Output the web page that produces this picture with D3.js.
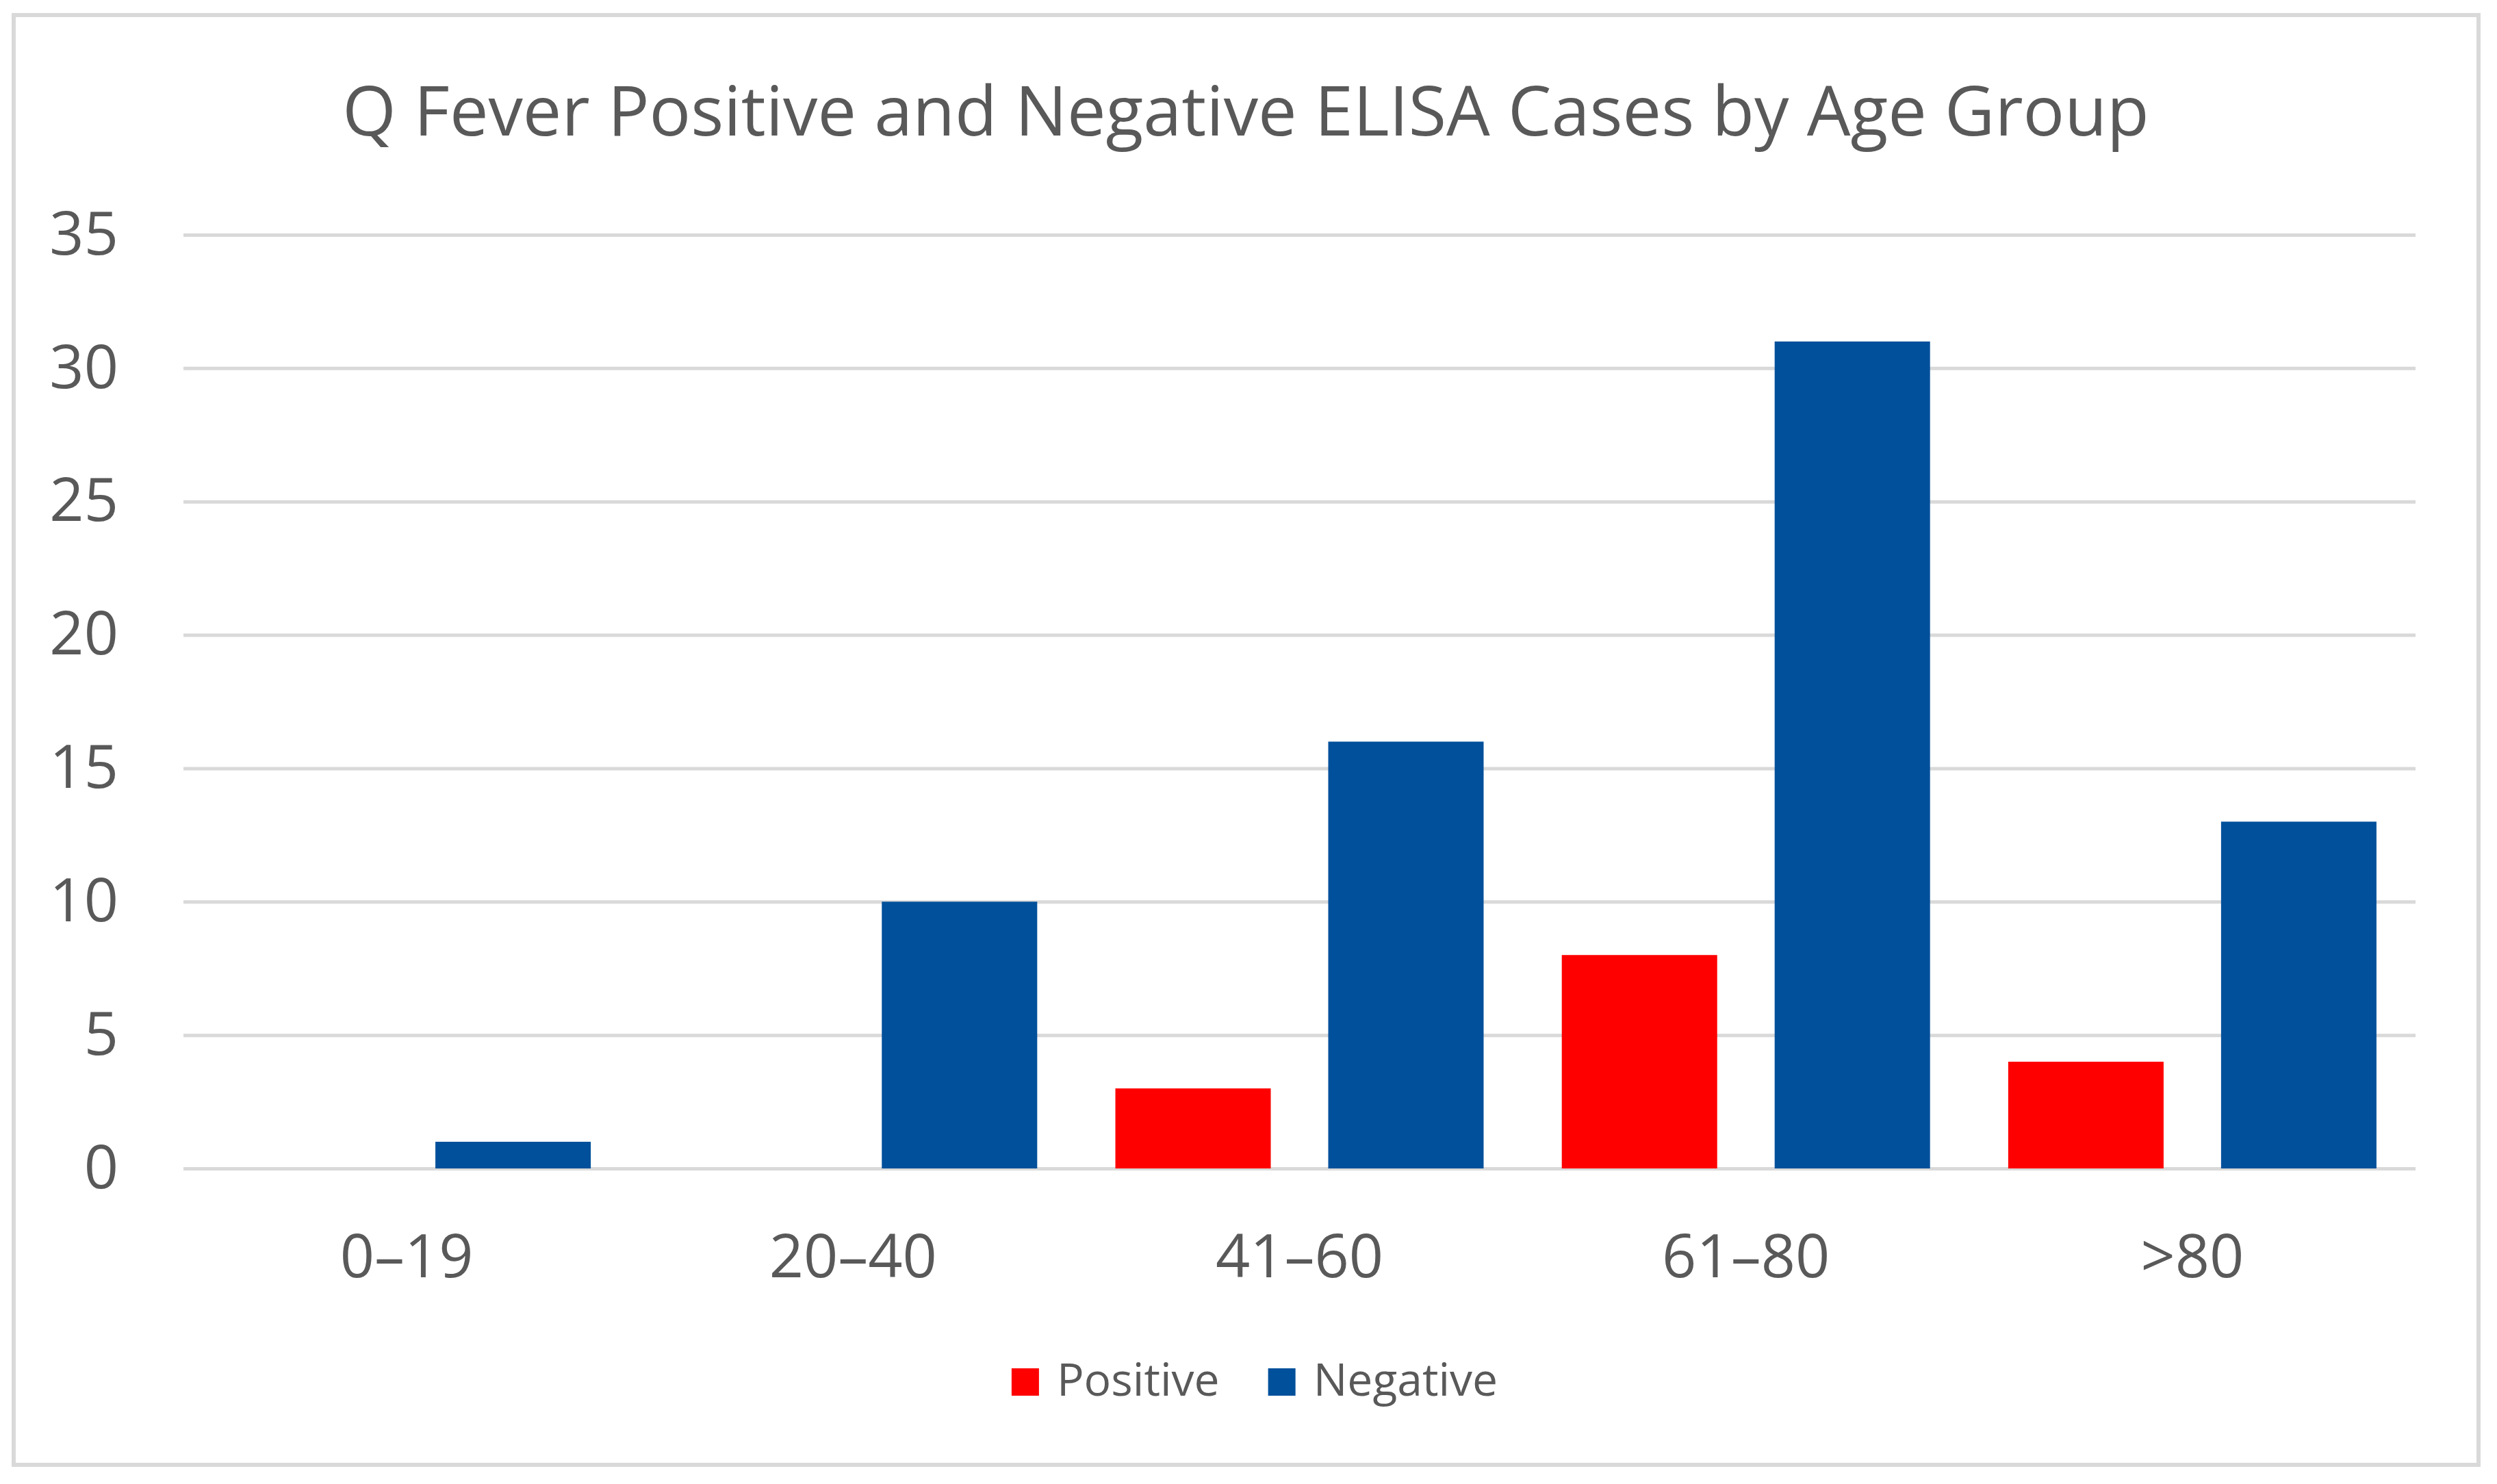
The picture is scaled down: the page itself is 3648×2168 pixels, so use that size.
<!DOCTYPE html>
<html>
<head>
<meta charset="utf-8">
<script src="https://cdn.jsdelivr.net/npm/d3@7"></script>
<style>
  body { margin: 0; background: #fff; }
  text { font-family: "Open Sans", sans-serif; fill: #595959; }
</style>
</head>
<body>
<div id="chart"></div>
<script>
// Data
const categories = ['0\u201319', '20\u201340', '41\u201360', '61\u201380', '>80'];
const seriesNames = ['Positive', 'Negative'];
const positive = [0, 0, 3, 8, 4];
const negative = [1, 10, 16, 31, 13];
const yTicks = [0, 5, 10, 15, 20, 25, 30, 35];
const chartTitle = 'Q Fever Positive and Negative ELISA Cases by Age Group';

const colors = { Positive: '#ff0000', Negative: '#00509b' };

const width = 3648;
const height = 2168;
const plot = { left: 268, right: 3529, top: 343, bottom: 1707 };

const svg = d3.select('#chart')
    .append('svg')
    .attr('width', width)
    .attr('height', height);

// Chart border
svg.append('rect')
    .attr('x', 20).attr('y', 22)
    .attr('width', 3601).attr('height', 2118)
    .attr('fill', '#fff')
    .attr('stroke', '#d9d9d9')
    .attr('stroke-width', 6);

// Title, fitted to the reference width
const title = svg.append('text')
    .attr('x', 1820).attr('y', 198)
    .attr('text-anchor', 'middle')
    .style('font-size', '100px')
    .text(chartTitle);
const tw = title.node().getComputedTextLength();
title.style('font-size', `${100 * 2640 / tw}px`);

// Scales
const x = d3.scaleBand()
    .domain(categories)
    .range([plot.left, plot.right]);

const groupPad = (x.bandwidth() - 538) / 2;
const x1 = d3.scaleBand()
    .domain(seriesNames)
    .range([groupPad, x.bandwidth() - groupPad])
    .paddingInner(0.27);

const y = d3.scaleLinear()
    .domain([0, 35])
    .range([plot.bottom, plot.top]);

// Y axis with gridlines
const yAxis = svg.append('g')
    .attr('transform', `translate(${plot.left},0)`)
    .call(d3.axisLeft(y)
        .tickValues(yTicks)
        .tickSize(-(plot.right - plot.left))
        .tickPadding(95));
yAxis.select('.domain').remove();
yAxis.selectAll('line')
    .attr('stroke', '#d9d9d9')
    .attr('stroke-width', 5);
yAxis.selectAll('text')
    .attr('fill', '#595959')
    .style('font-size', '88px')
    .style('font-family', '"Open Sans", sans-serif');

// Bars
const rows = categories.map((c, i) => ({ category: c, Positive: positive[i], Negative: negative[i] }));

const groups = svg.append('g')
    .selectAll('g')
    .data(rows)
    .enter()
    .append('g')
    .attr('transform', d => `translate(${x(d.category)},0)`);

groups.selectAll('rect')
    .data(d => seriesNames.map(s => ({ series: s, value: d[s] })))
    .enter()
    .append('rect')
    .attr('x', d => x1(d.series))
    .attr('y', d => y(d.value))
    .attr('width', x1.bandwidth())
    .attr('height', d => y(0) - y(d.value))
    .attr('fill', d => colors[d.series]);

// X axis labels
const xAxis = svg.append('g')
    .attr('transform', `translate(0,${plot.bottom})`)
    .call(d3.axisBottom(x).tickSize(0).tickPadding(97));
xAxis.select('.domain').remove();
xAxis.selectAll('text')
    .attr('fill', '#595959')
    .style('font-size', '88px')
    .style('font-family', '"Open Sans", sans-serif');

// Legend, centred under the plot
const legend = svg.append('g');
const items = legend.selectAll('g')
    .data(seriesNames)
    .enter()
    .append('g');

items.append('rect')
    .attr('width', 40).attr('height', 40)
    .attr('y', 1999)
    .attr('fill', d => colors[d]);

items.append('text')
    .attr('x', 66)
    .attr('y', 2039)
    .style('font-size', '66px')
    .text(d => d);

let offset = 0;
const widths = [];
items.each(function () {
    const w = 66 + d3.select(this).select('text').node().getComputedTextLength();
    widths.push(w);
});
const total = d3.sum(widths) + 71 * (widths.length - 1);
let start = 1833 - total / 2;
items.attr('transform', (d, i) => {
    const t = `translate(${start + offset},0)`;
    offset += widths[i] + 71;
    return t;
});
</script>
</body>
</html>
